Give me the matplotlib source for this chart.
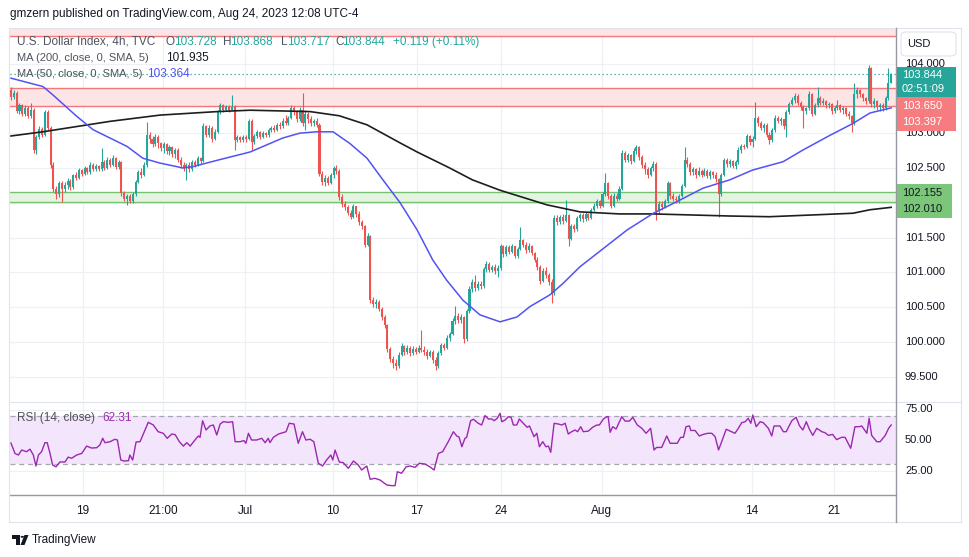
"""
DXY 4h chart with MA200 / MA50 and RSI pane, TradingView look.
Outputs: out.png
"""

import matplotlib
matplotlib.use("Agg")
import matplotlib.pyplot as plt
from matplotlib.patches import Rectangle, FancyBboxPatch, Polygon, Circle
import numpy as np

plt.rcParams["font.family"] = ["Liberation Sans", "DejaVu Sans"]

UP = "#26a69a"
DOWN = "#ef5350"
TXT = "#131722"
GREY = "#50535e"

# ---- candle data (4h bars, index 0..311) ----
first_open = 103.62
closes = [
    103.52, 103.58, 103.32, 103.40, 103.28, 103.36, 103.25, 103.34, 102.76, 102.95,
    103.06, 102.98, 103.31, 103.08, 102.55, 102.20, 102.12, 102.28, 102.20, 102.26,
    102.32, 102.22, 102.40, 102.36, 102.47, 102.42, 102.50, 102.44, 102.55, 102.49,
    102.53, 102.48, 102.58, 102.50, 102.62, 102.55, 102.64, 102.52, 102.58, 102.14,
    102.06, 102.10, 102.03, 102.12, 102.30, 102.44, 102.40, 102.55, 102.98, 102.92,
    102.84, 102.95, 102.86, 102.78, 102.84, 102.74, 102.80, 102.70, 102.76, 102.62,
    102.55, 102.50, 102.54, 102.48, 102.58, 102.55, 102.64, 102.60, 103.10, 102.98,
    103.08, 102.92, 103.02, 103.30, 103.40, 103.34, 103.38, 103.34, 103.38, 102.90,
    102.94, 102.90, 102.95, 102.92, 103.18, 102.87, 102.96, 103.01, 102.95, 103.00,
    102.97, 103.04, 103.08, 103.05, 103.12, 103.10, 103.18, 103.15, 103.22, 103.36,
    103.30, 103.20, 103.34, 103.15, 103.28, 103.20, 103.14, 103.18, 103.12, 102.42,
    102.30, 102.36, 102.28, 102.40, 102.50, 102.46, 102.08, 101.98, 101.94, 101.86,
    101.80, 101.95, 101.84, 101.72, 101.66, 101.40, 101.52, 100.60, 100.54, 100.58,
    100.48, 100.36, 100.24, 99.90, 99.76, 99.70, 99.66, 99.82, 99.94, 99.86,
    99.92, 99.84, 99.90, 99.86, 99.92, 99.88, 99.86, 99.80, 99.86, 99.74,
    99.66, 99.84, 99.96, 99.92, 100.06, 100.12, 100.30, 100.38, 100.32, 100.36,
    100.04, 100.45, 100.76, 100.86, 100.78, 100.84, 100.80, 101.05, 101.12, 101.04,
    101.08, 101.02, 101.06, 101.38, 101.26, 101.36, 101.30, 101.38, 101.24, 101.34,
    101.46, 101.40, 101.32, 101.38, 101.28, 101.18, 101.08, 100.88, 101.02, 100.96,
    100.86, 100.70, 101.78, 101.72, 101.80, 101.74, 101.82, 101.48, 101.66, 101.62,
    101.78, 101.82, 101.76, 101.84, 101.78, 101.90, 101.96, 102.02, 101.96, 102.12,
    102.28, 102.10, 101.96, 102.10, 102.06, 102.20, 102.72, 102.62, 102.68, 102.60,
    102.74, 102.80, 102.66, 102.54, 102.48, 102.40, 102.50, 102.56, 101.88, 101.98,
    101.94, 102.02, 102.28, 102.10, 102.06, 102.04, 102.10, 102.24, 102.62, 102.56,
    102.44, 102.48, 102.40, 102.46, 102.40, 102.46, 102.38, 102.44, 102.40, 102.34,
    102.12, 102.40, 102.62, 102.56, 102.60, 102.53, 102.58, 102.76, 102.82, 102.80,
    102.96, 102.88, 102.92, 103.22, 103.14, 103.08, 103.12, 102.98, 102.90, 103.04,
    103.22, 103.18, 103.20, 103.10, 103.30, 103.42, 103.48, 103.54, 103.44, 103.38,
    103.32, 103.36, 103.57, 103.28, 103.40, 103.50, 103.44, 103.46, 103.40, 103.42,
    103.32, 103.36, 103.40, 103.34, 103.36, 103.28, 103.24, 103.14, 103.56, 103.62,
    103.56, 103.50, 103.46, 103.94, 103.42, 103.46, 103.38, 103.40, 103.36, 103.50,
    103.728, 103.844,
]
highs = [
    103.66, 103.62, 103.60, 103.44, 103.42, 103.40, 103.39, 103.43, 103.36, 102.98,
    103.10, 103.09, 103.33, 103.34, 103.10, 102.58, 102.24, 102.32, 102.31, 102.30,
    102.36, 102.34, 102.42, 102.44, 102.50, 102.49, 102.53, 102.52, 102.58, 102.57,
    102.56, 102.55, 102.79, 102.62, 102.66, 102.64, 102.68, 102.66, 102.61, 102.60,
    102.17, 102.13, 102.12, 102.15, 102.33, 102.47, 102.50, 102.58, 103.16, 103.02,
    102.96, 102.99, 102.97, 102.88, 102.87, 102.86, 102.83, 102.82, 102.79, 102.78,
    102.66, 102.58, 102.57, 102.58, 102.61, 102.62, 102.67, 102.66, 103.14, 103.12,
    103.12, 103.10, 103.06, 103.33, 103.44, 103.42, 103.41, 103.40, 103.55, 103.40,
    102.98, 102.96, 102.98, 102.97, 103.21, 103.20, 102.99, 103.04, 103.03, 103.03,
    103.02, 103.08, 103.11, 103.12, 103.15, 103.16, 103.22, 103.26, 103.25, 103.40,
    103.39, 103.33, 103.38, 103.58, 103.33, 103.30, 103.24, 103.21, 103.22, 103.14,
    102.45, 102.40, 102.39, 102.43, 102.53, 102.54, 102.48, 102.12, 102.02, 101.97,
    101.90, 101.98, 101.96, 101.88, 101.75, 101.68, 101.56, 101.54, 100.64, 100.62,
    100.60, 100.50, 100.39, 100.26, 99.93, 99.80, 99.76, 99.85, 99.98, 99.96,
    99.95, 99.94, 99.94, 99.93, 99.95, 100.17, 99.94, 99.90, 99.89, 99.88,
    99.78, 99.87, 99.99, 99.99, 100.10, 100.15, 100.34, 100.52, 100.41, 100.40,
    100.38, 100.48, 100.80, 100.90, 100.96, 100.88, 100.87, 101.08, 101.16, 101.15,
    101.11, 101.12, 101.10, 101.41, 101.40, 101.39, 101.40, 101.41, 101.38, 101.37,
    101.65, 101.48, 101.44, 101.42, 101.40, 101.30, 101.22, 101.10, 101.06, 101.08,
    100.99, 100.90, 101.82, 101.82, 101.83, 101.84, 102.04, 101.84, 101.70, 101.70,
    101.81, 101.86, 101.85, 101.87, 101.86, 101.93, 102.00, 102.05, 102.04, 102.16,
    102.43, 102.30, 102.12, 102.14, 102.14, 102.24, 102.76, 102.74, 102.72, 102.70,
    102.78, 102.83, 102.82, 102.68, 102.58, 102.52, 102.53, 102.60, 102.58, 102.02,
    102.02, 102.05, 102.31, 102.30, 102.14, 102.10, 102.13, 102.27, 102.80, 102.66,
    102.58, 102.52, 102.50, 102.52, 102.48, 102.50, 102.48, 102.47, 102.46, 102.44,
    102.36, 102.43, 102.65, 102.64, 102.63, 102.62, 102.61, 102.80, 102.84, 102.84,
    102.99, 102.98, 102.96, 103.45, 103.24, 103.18, 103.15, 103.14, 103.02, 103.08,
    103.26, 103.24, 103.23, 103.21, 103.33, 103.45, 103.52, 103.58, 103.56, 103.46,
    103.40, 103.38, 103.60, 103.58, 103.44, 103.67, 103.54, 103.50, 103.48, 103.45,
    103.44, 103.39, 103.48, 103.42, 103.39, 103.38, 103.32, 103.26, 103.72, 103.66,
    103.64, 103.58, 103.52, 103.98, 103.95, 103.50, 103.48, 103.44, 103.44, 103.53,
    103.94, 103.868,
]
lows = [
    103.47, 103.49, 103.29, 103.28, 103.24, 103.25, 103.22, 103.22, 102.72, 102.70,
    102.92, 102.94, 102.96, 103.04, 102.50, 102.16, 102.05, 102.08, 102.01, 102.15,
    102.20, 102.19, 102.20, 102.33, 102.34, 102.38, 102.40, 102.41, 102.42, 102.46,
    102.45, 102.45, 102.46, 102.47, 102.48, 102.51, 102.53, 102.48, 102.49, 102.10,
    102.02, 101.97, 101.99, 102.00, 102.10, 102.28, 102.36, 102.38, 102.52, 102.86,
    102.80, 102.82, 102.78, 102.74, 102.72, 102.70, 102.68, 102.66, 102.64, 102.58,
    102.50, 102.45, 102.33, 102.44, 102.46, 102.52, 102.53, 102.56, 102.58, 102.94,
    102.95, 102.88, 102.90, 103.00, 103.27, 103.31, 103.32, 103.31, 103.33, 102.76,
    102.88, 102.87, 102.88, 102.88, 102.90, 102.76, 102.84, 102.93, 102.92, 102.93,
    102.94, 102.95, 103.01, 103.02, 103.03, 103.06, 103.08, 103.12, 103.12, 103.20,
    103.26, 103.16, 103.18, 103.10, 103.05, 103.14, 103.11, 103.10, 103.09, 102.38,
    102.26, 102.24, 102.25, 102.27, 102.36, 102.42, 102.04, 101.94, 101.90, 101.82,
    101.76, 101.78, 101.80, 101.68, 101.62, 101.36, 101.38, 100.56, 100.50, 100.49,
    100.45, 100.32, 100.20, 99.86, 99.72, 99.62, 99.60, 99.62, 99.80, 99.82,
    99.83, 99.80, 99.82, 99.83, 99.84, 99.85, 99.82, 99.76, 99.78, 99.70,
    99.60, 99.62, 99.82, 99.89, 99.90, 100.02, 100.10, 100.26, 100.28, 100.27,
    99.98, 100.02, 100.42, 100.72, 100.74, 100.75, 100.76, 100.78, 101.00, 101.00,
    101.01, 100.98, 100.93, 101.04, 101.22, 101.24, 101.26, 101.28, 101.20, 101.21,
    101.32, 101.36, 101.28, 101.29, 101.25, 101.15, 101.04, 100.84, 100.86, 100.92,
    100.82, 100.56, 100.68, 101.68, 101.70, 101.70, 101.72, 101.38, 101.46, 101.58,
    101.60, 101.74, 101.72, 101.74, 101.75, 101.76, 101.88, 101.93, 101.93, 101.94,
    102.10, 102.06, 101.92, 101.94, 102.02, 102.04, 102.18, 102.58, 102.58, 102.56,
    102.58, 102.70, 102.62, 102.50, 102.42, 102.36, 102.38, 102.46, 101.75, 101.84,
    101.90, 101.92, 102.00, 102.06, 102.02, 102.00, 102.00, 102.08, 102.22, 102.52,
    102.40, 102.40, 102.36, 102.38, 102.37, 102.38, 102.35, 102.34, 102.36, 102.30,
    101.80, 102.10, 102.38, 102.52, 102.52, 102.50, 102.48, 102.56, 102.72, 102.77,
    102.78, 102.83, 102.80, 102.90, 103.10, 103.04, 103.02, 102.94, 102.85, 102.88,
    103.02, 103.14, 103.12, 103.06, 102.94, 103.28, 103.40, 103.44, 103.40, 103.34,
    103.07, 103.28, 103.34, 103.24, 103.26, 103.38, 103.40, 103.41, 103.36, 103.36,
    103.28, 103.29, 103.33, 103.30, 103.28, 103.25, 103.20, 103.02, 103.12, 103.50,
    103.52, 103.46, 103.42, 103.44, 103.38, 103.36, 103.33, 103.32, 103.32, 103.34,
    103.48, 103.717,
]

# ---- moving averages (bar position, value) ----
ma200_x = [0, 11.3, 35, 52.7, 72.8, 84.5, 105.7, 116, 125.8, 137.5, 143.5, 155,
           163, 172.8, 189.4, 201, 215, 227, 254, 268, 286, 297.5, 303.5, 311]
ma200_v = [102.96, 103.02, 103.17, 103.26, 103.31, 103.33, 103.31, 103.25, 103.12,
           102.86, 102.73, 102.50, 102.33, 102.18, 101.97, 101.87, 101.84, 101.84,
           101.81, 101.80, 101.83, 101.85, 101.90, 101.935]
ma50_x = [0, 11.3, 14.8, 23.3, 29, 35, 41, 46.6, 52.7, 60.8, 64.3, 72.8, 84.5, 96,
          102, 108, 113.8, 119.8, 125.8, 131.4, 137.5, 143.5, 149, 153.9, 159.7,
          165.7, 172.8, 178.8, 183.4, 190.5, 195, 201, 217.7, 227, 236.4, 244.5,
          254, 262, 272.8, 279.9, 289.4, 297.5, 303.5, 311]
ma50_v = [103.79, 103.67, 103.55, 103.24, 103.05, 102.93, 102.81, 102.64, 102.57,
          102.50, 102.52, 102.61, 102.73, 102.93, 103.00, 103.02, 103.02, 102.85,
          102.64, 102.33, 102.00, 101.61, 101.18, 100.89, 100.60, 100.39, 100.29,
          100.36, 100.51, 100.68, 100.84, 101.08, 101.61, 101.85, 102.04, 102.21,
          102.33, 102.47, 102.59, 102.76, 102.97, 103.14, 103.29, 103.364]

# ---- RSI (bar position, value) ----
rsi_x = [0, 1.4, 2.6, 3.8, 5.5, 6.7, 7.9, 8.8, 9.7, 10.8, 12, 12.8, 13.8, 14.7,
         15.9, 17.3, 19.1, 20.2, 21.4, 23.2, 25, 26.7, 28.5, 30.3, 31.4, 32.4,
         33.2, 35, 36.7, 37.6, 38.8, 39.9, 41.5, 42, 43, 44.2, 45.6, 48.5, 50.3,
         52, 53.8, 55.2, 56.8, 58, 59.5, 60.9, 62.1, 63.3, 65, 66.2, 66.8, 67.7,
         68.9, 70.3, 71.5, 72.7, 73.9, 75, 76.8, 78.3, 79.2, 80.9, 82.3, 83, 83.9,
         85, 86.8, 88.6, 89.8, 90.9, 91.5, 92.7, 94.5, 97.2, 98.3, 100, 101.5,
         103, 104.2, 105.7, 107, 108.6, 110.1, 111.5, 113, 113.7, 114.5, 116,
         117.4, 119.2, 121, 122.7, 123.9, 125.7, 126.9, 128.6, 130.4, 132.8,
         134.5, 135.7, 136.5, 138, 139.6, 141, 142.8, 144.3, 146.3, 148, 149.5,
         151, 152.5,
         154.5, 156.3, 157.5, 158.3, 159.3, 160.4, 161, 162.4, 163.4, 165.1,
         166.3, 167.5, 168.7, 169.9, 170.7, 171.8, 172.8, 173.4, 174.6, 175.7,
         176.7, 177.5, 178.7, 179.6, 181, 182.4, 183.2, 184.8, 185.8, 186.7,
         187.9, 189, 189.9, 190.7, 191.9, 193.4, 194.6, 195.8, 196.9, 198.1,
         199.3, 200.2, 201.3, 202.2, 204, 205.5, 207, 207.9, 209.3, 210.5,
         211, 211.7, 212.6, 213.8, 215.8, 217, 218.5, 219.7, 221.3, 222.9,
         224.4, 226, 227.2, 228.1, 229.9, 231.7, 232.9, 235.4, 236.6, 237.6,
         238.5, 239.7, 240.2, 241.7, 243.2, 244.6, 246.2, 247.6, 248.8, 250,
         251.1, 252.7, 254.1, 255.8, 257, 258.2, 259.4, 260.5, 261.4, 262.1,
         263.3, 264.7, 265.8, 267.6, 268.8, 269.6, 271.7, 272.9, 273.9, 275.9,
         277.4, 278.6, 279.8, 281, 282.1, 283.3, 284.7, 286.5, 287.6, 288.8,
         290.3, 291.7, 293.5, 294.7, 296.7, 298.2, 299.7, 300.6, 302.4, 303.2,
         304.1, 305.9, 307.1, 308.9, 310.1, 311]
rsi_v = [47.5, 39, 37.7, 41.8, 40.4, 42.5, 37.7, 28.7, 37.7, 40.4, 47.8, 47.8, 39,
         29.5, 28, 32, 32, 36, 35, 37.7, 39, 45, 43.4, 43.7, 45.9, 51.4, 47.8,
         48.6, 50.6, 50, 33.6, 32.8, 33, 37.7, 33.6, 48.4, 48.6, 64.5, 62.3, 56.8,
         55.5, 51.4, 54.9, 54.4, 48.6, 45, 47.8, 45, 50, 53.3, 52.2, 65.8, 58.2,
         61.5, 62.3, 54.1, 63.1, 65, 64.5, 65, 48.6, 48.6, 49.5, 47.3, 55.5, 50,
         50, 51.4, 47.8, 51.4, 47.8, 52.2, 54.9, 56.8, 63.7, 63.1, 47.3, 56.8, 50,
         50.6, 48.6, 30.9, 28.7, 33.6, 37.7, 33.6, 41.8, 32, 31.4, 26.8, 32.8,
         29.5, 25.4, 28.7, 17.8, 18.6, 17.2, 13.1, 12.6, 12.6, 24, 22.7, 28, 28.7,
         27.6, 30.9, 30.3, 28, 25.4, 39, 40.4,
         48.6, 56.8, 53.3, 52.5, 44.5, 51.4, 52.2, 65.8, 67, 63.7,
         62.3, 70, 67.2, 67.2, 65.8, 67.8, 71.9, 65, 66.4, 69.1,
         68.6, 62.3, 62.3, 67.2, 63.7, 60.4, 61.5, 52.7, 55.5, 44.5,
         48.6, 44.5, 45, 39.9, 63.7, 63.1, 62.3, 63.7, 54.9, 56.8,
         58.2, 56.8, 60.9, 56.8, 57.3, 60.4, 62.3, 62.3, 67.2, 69.1,
         69.1, 56.3, 60.9, 59, 69.1, 65.5, 65.5, 68.6, 62.3, 59.6,
         55.5, 59.6, 41.8, 43.9, 43.9, 53.3, 47.3, 47.3, 52.2, 52.2,
         60.9, 61.5, 57.8, 57.8, 53.3, 54.6, 55.5, 55.5, 52.7, 41.8,
         48.6, 58.8, 57.3, 55.5, 59.6, 64.2, 65, 67.8, 63.7, 70.5,
         60.9, 65, 64.2, 59.6, 53.3, 61.5, 61.5, 56.8, 56.8, 65.8,
         68.6, 61.7, 58.2, 65, 58.8, 53.8, 59.6, 56.8, 56, 53.8,
         54.6, 50.3, 52.2, 52.2, 43.2, 60.9, 60.9, 61.5, 55.5, 67.8,
         53.8, 48.6, 48.6, 53.8, 59.6, 62.31]

# time axis
tick_pos = [25.4, 53.7, 82.7, 113.8, 143.5, 173.1, 208.8, 261.8, 290.8]
tick_lbl = ["19", "21:00", "Jul", "10", "17", "24", "Aug", "14", "21"]

# zones drawn on the chart
red_zone = (103.397, 103.650)
green_zone = (102.010, 102.155)
top_zone = 104.40
last_price = 103.844

W, H = 970, 557


def fx(x):
    return x / W


def fy(y):
    return 1 - y / H


def draw_chart(output_path="out.png"):
    fig = plt.figure(figsize=(W / 100, H / 100), dpi=100)
    fig.patch.set_facecolor("white")

    ax = fig.add_axes([fx(10), fy(400), 886 / W, 372 / H])
    rx = fig.add_axes([fx(10), fy(494), 886 / W, 93 / H])
    xlim = (-0.35, 312.7)

    for a in (ax, rx):
        a.set_xlim(*xlim)
        for s in a.spines.values():
            s.set_visible(False)
        a.set_yticks([])
        for t in tick_pos:
            a.axvline(t, color="#eef0f5", lw=0.9, zorder=0)
    ax.set_xticks([])
    ax.set_ylim(99.167, 104.511)
    rx.set_ylim(5.74, 81.97)

    for v in np.arange(99.5, 104.01, 0.5):
        ax.axhline(v, color="#eef0f5", lw=0.9, zorder=0)

    # zones
    ax.axhspan(*red_zone, color="#fde4e5", lw=0, zorder=1)
    for v in red_zone:
        ax.axhline(v, color="#f4777c", lw=1.0, zorder=1.5)
    ax.axhspan(top_zone, 105, color="#fde4e5", lw=0, zorder=1)
    ax.axhline(top_zone, color="#f4777c", lw=1.0, zorder=1.5)
    ax.axhspan(*green_zone, color="#e3f4e1", lw=0, zorder=1)
    for v in green_zone:
        ax.axhline(v, color="#76c272", lw=1.0, zorder=1.5)

    # candles
    c = np.array(closes)
    o = np.r_[first_open, c[:-1]]
    hi = np.maximum(np.array(highs), np.maximum(o, c))
    lo = np.minimum(np.array(lows), np.minimum(o, c))
    idx = np.arange(len(c))
    cols = np.where(c >= o, UP, DOWN)
    ax.vlines(idx, lo, hi, colors=cols, lw=0.8, zorder=3)
    ax.bar(idx, np.maximum(np.abs(c - o), 0.006), bottom=np.minimum(o, c),
           width=0.72, color=cols, lw=0, zorder=4)

    # moving averages
    ax.plot(ma200_x, ma200_v, color="#1e1e1e", lw=1.2, zorder=5)
    ax.plot(ma50_x, ma50_v, color="#5252f5", lw=1.1, zorder=5)

    ax.axhline(last_price, color=UP, lw=0.9, ls=(0, (1, 2.2)), zorder=5)

    # RSI pane
    rx.axhspan(30, 70, color="#f3e6fc", lw=0, zorder=1)
    for v in (25, 50, 75):
        rx.axhline(v, color="#eef0f5", lw=0.9, zorder=0)
    for v in (30, 70):
        rx.axhline(v, color="#a3a6af", lw=0.9, ls=(0, (4, 3)), zorder=2)
    rx.plot(rsi_x, rsi_v, color="#9c27b0", lw=1.0, zorder=3)
    rx.set_xticks(tick_pos)
    rx.set_xticklabels(tick_lbl, fontsize=8.5, color=TXT)
    rx.tick_params(axis="x", length=0, pad=8)

    # frame lines
    def hline(y, x0, x1, color, lw=0.8):
        fig.add_artist(plt.Line2D([fx(x0), fx(x1)], [fy(y), fy(y)],
                                  color=color, lw=lw))

    def vline(x, y0, y1, color, lw=0.8):
        fig.add_artist(plt.Line2D([fx(x), fx(x)], [fy(y0), fy(y1)],
                                  color=color, lw=lw))

    hline(27.5, 9, 961, "#e0e3eb")
    hline(401.5, 10, 961, "#e0e3eb")
    hline(494.5, 10, 896, "#9598a1", 1.0)
    hline(521.5, 9, 961, "#e0e3eb")
    vline(896, 27.5, 521.5, "#9598a1", 1.0)
    vline(9, 27.5, 521.5, "#e0e3eb")
    vline(961, 27.5, 521.5, "#e0e3eb")

    # price scale labels
    for v in [104.0, 103.0, 102.5, 101.5, 101.0, 100.5, 100.0, 99.5]:
        y = 63.6 + (104 - v) * 69.6
        fig.text(fx(905), fy(y), f"{v:.3f}", fontsize=8, color=TXT,
                 va="center", ha="left")
    for v in (75, 50, 25):
        y = 440 - (v - 50) * 1.22
        fig.text(fx(905), fy(y), f"{v:.2f}", fontsize=8, color=TXT,
                 va="center", ha="left")

    def tag(y0, y1, x1, color, lines, tcolor):
        fig.add_artist(Rectangle((fx(897), fy(y1)), (x1 - 897) / W,
                                 (y1 - y0) / H, color=color, lw=0, zorder=6))
        for yy, s in lines:
            fig.text(fx(902), fy(yy), s, fontsize=8, color=tcolor,
                     va="center", ha="left", zorder=7)

    tag(67, 97, 956, UP, [(75, "103.844"), (89, "02:51:09")], "white")
    tag(97, 131, 956, "#f77c80", [(106, "103.650"), (122, "103.397")], "white")
    tag(184, 218, 952, "#7cc67a", [(193, "102.155"), (209, "102.010")], TXT)

    fig.add_artist(FancyBboxPatch((fx(901), fy(56)), 55 / W, 24 / H,
                                  boxstyle="round,pad=0,rounding_size=0.006",
                                  fc="white", ec="#e0e3eb", lw=0.8))
    fig.text(fx(907), fy(44), "USD", fontsize=8, color=TXT, va="center")

    # header and legends
    fs = 8.5
    fig.text(fx(10), fy(14),
             "gmzern published on TradingView.com, Aug 24, 2023 12:08 UTC-4",
             fontsize=8.5, color=TXT, va="center")
    fig.text(fx(17), fy(42), "U.S. Dollar Index, 4h, TVC", fontsize=fs,
             color=GREY, va="center")
    for x, lab, off, val in [(166, "O", 8, "103.728"), (223, "H", 7.5, "103.868"),
                             (281, "L", 6, "103.717"), (335, "C", 7.5, "103.844")]:
        fig.text(fx(x), fy(42), lab, fontsize=fs, color=GREY, va="center")
        fig.text(fx(x + off), fy(42), val, fontsize=fs, color=UP, va="center")
    fig.text(fx(393), fy(42), "+0.119 (+0.11%)", fontsize=fs, color=UP,
             va="center")
    fig.text(fx(17), fy(58), "MA (200, close, 0, SMA, 5)", fontsize=8,
             color=GREY, va="center")
    fig.text(fx(166), fy(58), "101.935", fontsize=fs, color=TXT, va="center")
    fig.text(fx(17), fy(74), "MA (50, close, 0, SMA, 5)", fontsize=8,
             color=GREY, va="center")
    fig.text(fx(147), fy(74), "103.364", fontsize=fs, color="#5252f5",
             va="center")
    fig.text(fx(17), fy(418), "RSI (14, close)", fontsize=fs, color=GREY,
             va="center")
    fig.text(fx(102), fy(418), "62.31", fontsize=fs, color="#9c27b0",
             va="center")

    # TradingView logo
    k = "#131722"
    fig.add_artist(Polygon([(fx(12), fy(535)), (fx(20), fy(535)),
                            (fx(20), fy(545)), (fx(16.5), fy(545)),
                            (fx(16.5), fy(538.5)), (fx(12), fy(538.5))],
                           closed=True, color=k, lw=0))
    fig.add_artist(Circle((fx(22.3), fy(536.8)), 1.7 / W, color=k, lw=0))
    fig.add_artist(Polygon([(fx(24.5), fy(535)), (fx(28.5), fy(535)),
                            (fx(24.5), fy(545)), (fx(20.5), fy(545))],
                           closed=True, color=k, lw=0))
    fig.text(fx(32), fy(540), "TradingView", fontsize=8.5, color=TXT,
             va="center")

    fig.savefig(output_path, dpi=100, facecolor="white")
    plt.close(fig)


if __name__ == "__main__":
    draw_chart()
